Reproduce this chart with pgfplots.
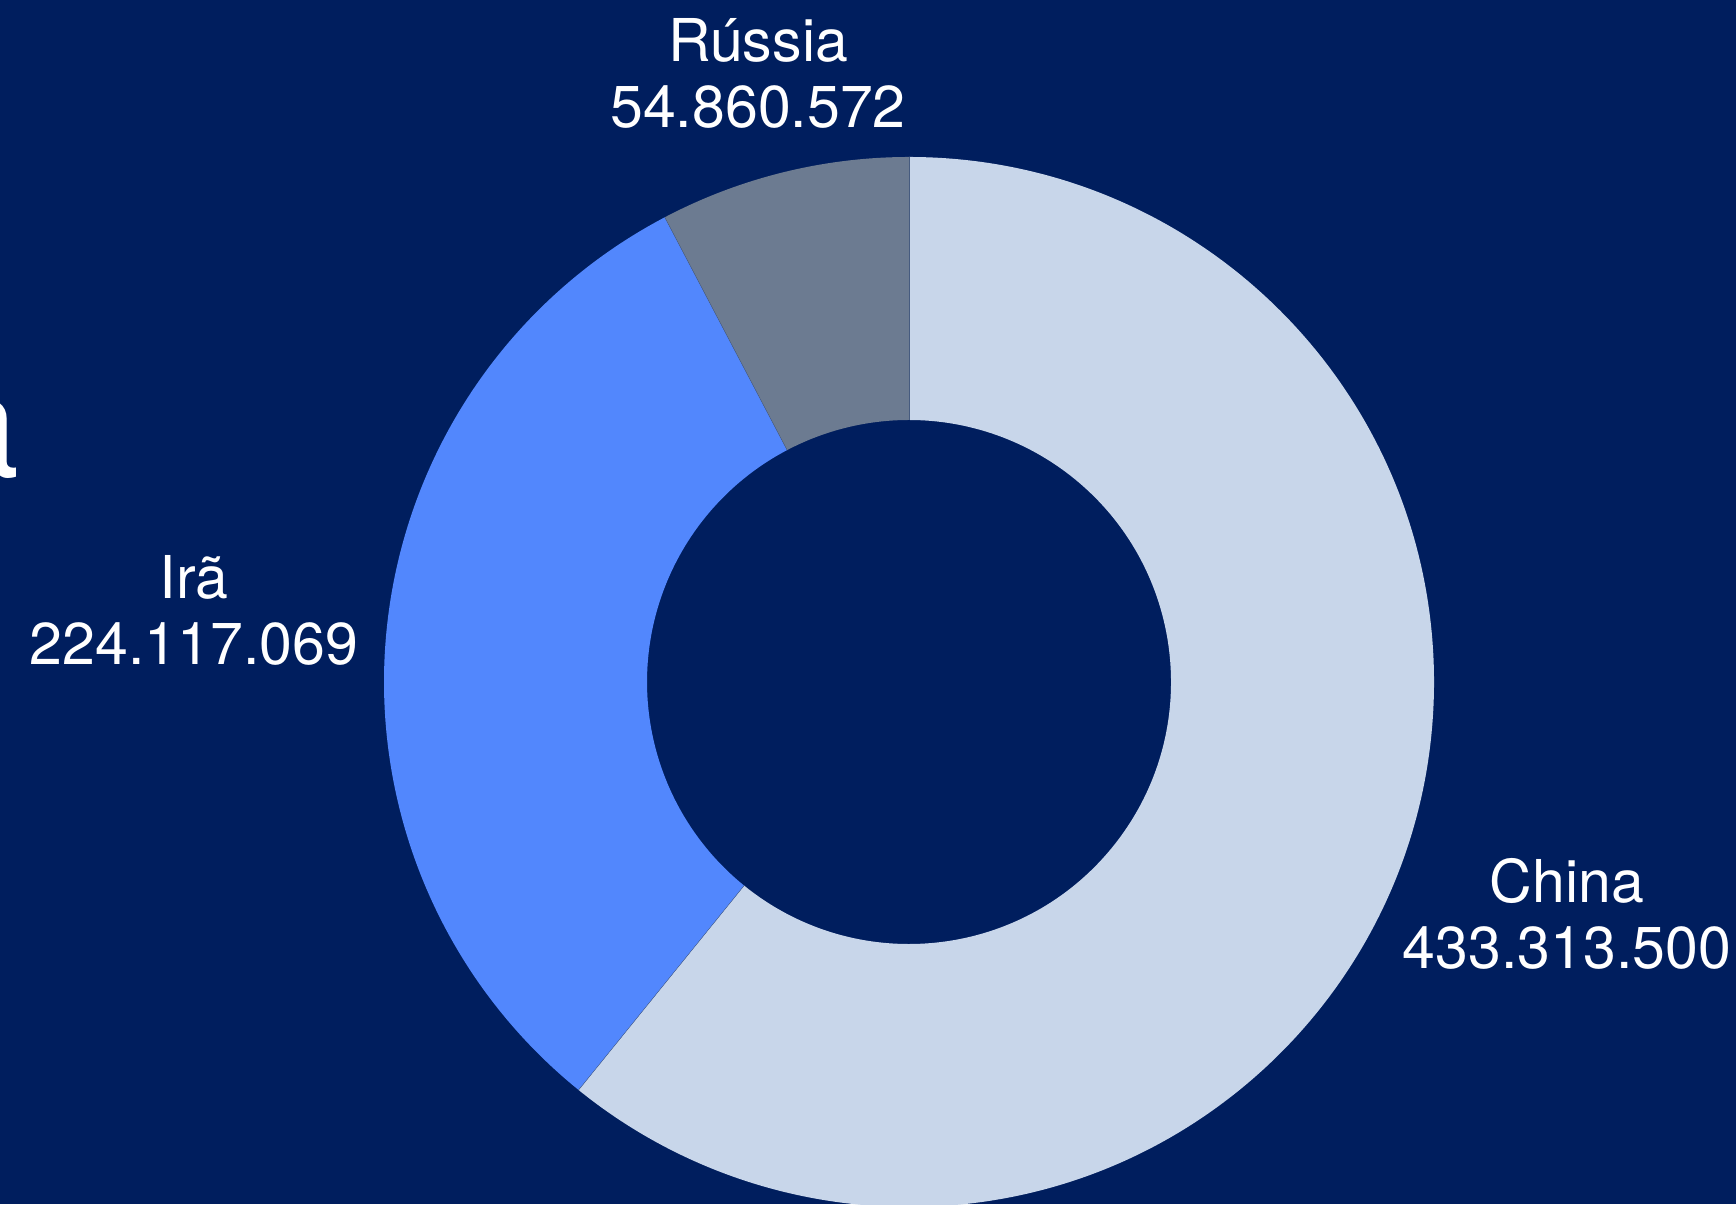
\documentclass[border=0pt]{standalone}
\usepackage{pgfplots}
\usepackage{pgfplotstable}
\pgfplotsset{compat=1.18}
\usetikzlibrary{calc}
\usepackage{fontspec}
\setmainfont{TeX Gyre Heros}
\definecolor{bgC}{HTML}{001E5E}
\definecolor{chinaC}{HTML}{C8D6EA}
\definecolor{iraC}{HTML}{5287FD}
\definecolor{russiaC}{HTML}{6C7B91}

\pgfplotstableread[col sep=comma]{
label,value
China,433313500
Irã,224117069
Rússia,54860572
}\donutdata

\begin{document}
\begin{tikzpicture}
\useasboundingbox (0,0) rectangle (173.6mm,120.4mm);
\clip (0,0) rectangle (173.6mm,120.4mm);
\fill[bgC] (0,0) rectangle (173.6mm,120.4mm);
\pgfplotstablegetelem{0}{value}\of\donutdata \edef\vA{\pgfplotsretval}
\pgfplotstablegetelem{1}{value}\of\donutdata \edef\vB{\pgfplotsretval}
\pgfplotstablegetelem{2}{value}\of\donutdata \edef\vC{\pgfplotsretval}
\edef\vT{\fpeval{\vA+\vB+\vC}}
\edef\aZero{90}
\edef\aOne{\fpeval{round(90-360*\vA/\vT,3)}}
\edef\aTwo{\fpeval{round(90-360*(\vA+\vB)/\vT,3)}}
\edef\aThree{-270}
\begin{axis}[
  at={(0,0)}, anchor=south west,
  width=173.6mm, height=120.4mm, scale only axis,
  xmin=0, xmax=1736, ymin=0, ymax=1204,
  hide axis, clip=false,
]
\coordinate (c) at (axis cs:909,522);
\fill[chinaC] ($(c)+(\aZero:52.5mm)$) arc[start angle=\aZero, end angle=\aOne, radius=52.5mm]
  -- ($(c)+(\aOne:26.2mm)$) arc[start angle=\aOne, end angle=\aZero, radius=26.2mm] -- cycle;
\fill[iraC] ($(c)+(\aOne:52.5mm)$) arc[start angle=\aOne, end angle=\aTwo, radius=52.5mm]
  -- ($(c)+(\aTwo:26.2mm)$) arc[start angle=\aTwo, end angle=\aOne, radius=26.2mm] -- cycle;
\fill[russiaC] ($(c)+(\aTwo:52.5mm)$) arc[start angle=\aTwo, end angle=\aThree, radius=52.5mm]
  -- ($(c)+(\aThree:26.2mm)$) arc[start angle=\aThree, end angle=\aTwo, radius=26.2mm] -- cycle;
\draw[bgC!35!russiaC, line width=0.1pt] ($(c)+(\aZero:26.2mm)$) -- ($(c)+(\aZero:52.5mm)$);
\draw[bgC!35!russiaC, line width=0.1pt] ($(c)+(\aOne:26.2mm)$) -- ($(c)+(\aOne:52.5mm)$);
\draw[bgC!35!russiaC, line width=0.1pt] ($(c)+(\aTwo:26.2mm)$) -- ($(c)+(\aTwo:52.5mm)$);
\node[text=white, anchor=base, inner sep=0pt, font=\fontsize{16.8pt}{18pt}\selectfont] at (axis cs:758,1142) {Rússia};
\node[text=white, anchor=base, inner sep=0pt, font=\fontsize{16.8pt}{18pt}\selectfont] at (axis cs:758,1076) {54.860.572};
\node[text=white, anchor=base, inner sep=0pt, font=\fontsize{16.8pt}{18pt}\selectfont] at (axis cs:194,605) {Irã};
\node[text=white, anchor=base, inner sep=0pt, font=\fontsize{16.8pt}{18pt}\selectfont] at (axis cs:194,539) {224.117.069};
\node[text=white, anchor=base, inner sep=0pt, font=\fontsize{16.8pt}{18pt}\selectfont] at (axis cs:1567,301) {China};
\node[text=white, anchor=base, inner sep=0pt, font=\fontsize{16.8pt}{18pt}\selectfont] at (axis cs:1567,236) {433.313.500};
\node[text=white, anchor=base east, inner sep=0pt, font=\fontsize{42pt}{46pt}\selectfont] at (axis cs:20,726) {a};
\end{axis}
\end{tikzpicture}
\end{document}
